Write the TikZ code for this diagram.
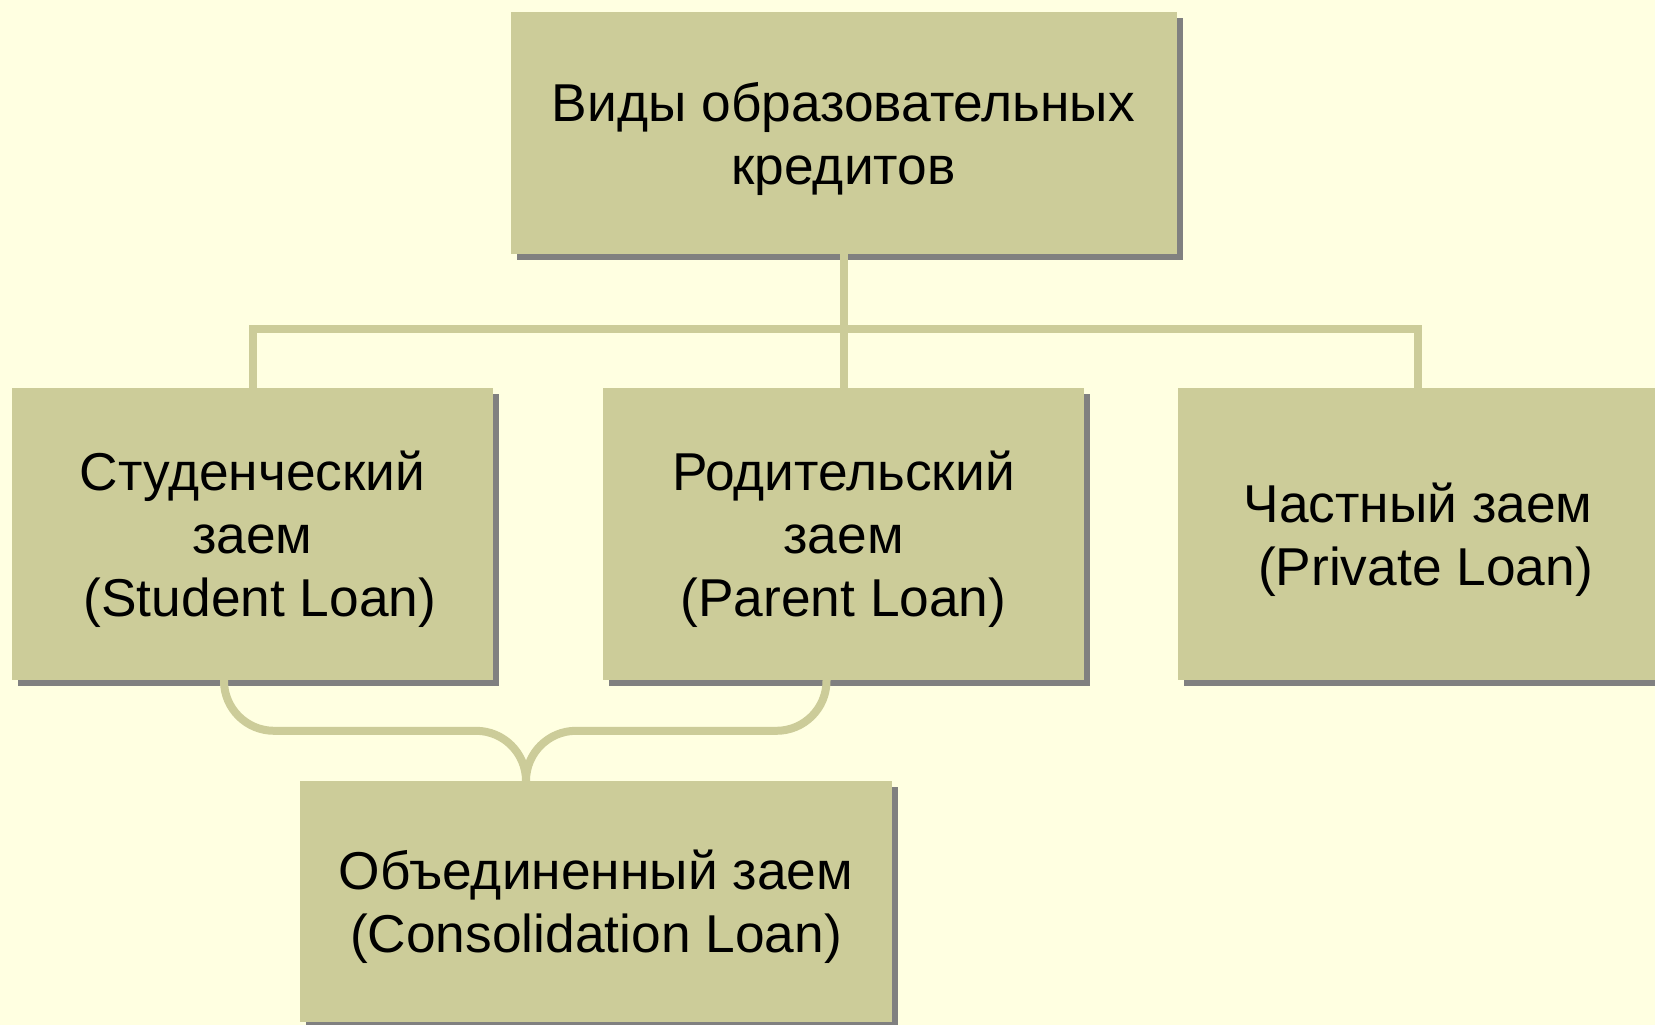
\documentclass[tikz,border=0pt]{standalone}
\usepackage{fontspec}
\setmainfont{Liberation Sans}
\usetikzlibrary{calc,shadows}
\definecolor{hintergrund}{HTML}{FFFFE1}
\definecolor{kastenfarbe}{HTML}{CCCC99}
\definecolor{schatten}{HTML}{808080}
\newcommand{\kastentext}[1]{\raisebox{-7pt}[\height][\depth]{\begin{tabular}{@{}c@{}}#1\end{tabular}}}
\tikzset{
	kasten/.style={rectangle, fill=kastenfarbe, inner sep=0pt,
		minimum width=481pt, minimum height=292pt,
		font=\fontsize{53.3}{63}\selectfont,
		drop shadow={shadow xshift=6pt, shadow yshift=-6pt, fill=schatten, opacity=1}},
	verbinder/.style={line width=8pt, color=kastenfarbe}
}

\begin{document}
\begin{tikzpicture}[x=1pt, y=-1pt]
		%%%%% START %%%%%
		
		\clip (0, 0) rectangle (1655, 1025);
		\fill[hintergrund] (0, 0) rectangle (1655, 1025);
		
		\node[kasten, minimum width=666pt, minimum height=242pt] (arten) at (843.5, 133) {\kastentext{Виды образовательных\\кредитов}};
		
		\node[kasten] (student) at (252.5, 534) {\kastentext{Студенческий\\заем\\\hspace*{0.28em}(Student Loan)}};
		\node[kasten] (eltern) at (843.5, 534) {\kastentext{Родительский\\заем\\(Parent Loan)}};
		\node[kasten] (privat) at (1418, 534) {\kastentext{Частный заем\\\hspace*{0.28em}(Private Loan)}};
		
		\node[kasten, minimum width=592pt, minimum height=241pt] (konsol) at (596, 901.5) {\kastentext{Объединенный заем\\(Consolidation Loan)}};
		
		\coordinate (knoten) at (843.5, 328.5);
		\draw[verbinder] (arten.south) -- (eltern.north);
		\draw[verbinder] (student.north) |- (knoten) -| (privat.north);
		
		\draw[verbinder, rounded corners=50pt] ([xshift=-28.5pt]student.south) |- ([xshift=-70pt, yshift=50pt]konsol.north) -- ([xshift=-70pt]konsol.north);
		\draw[verbinder, rounded corners=50pt] ([xshift=-17pt]eltern.south) |- ([xshift=-70pt, yshift=50pt]konsol.north) -- ([xshift=-70pt]konsol.north);
		
		%%%%% END %%%%%
	\end{tikzpicture}
\end{document}
